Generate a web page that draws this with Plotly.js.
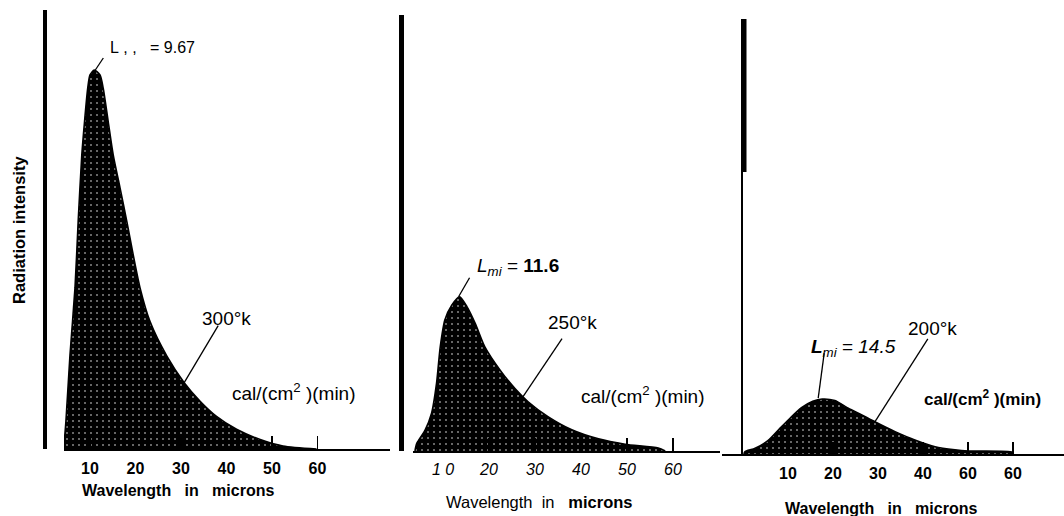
<!DOCTYPE html>
<html>
<head>
<meta charset="utf-8">
<script src="https://cdn.plot.ly/plotly-3.0.1.min.js"></script>
<style>html,body{margin:0;padding:0;background:#fff;}#chart{width:1064px;height:516px;}</style>
</head>
<body>
<div id="chart"></div>
<script>
// ---- data (relative radiation intensity, 300°K peak = 100) ----
const wl300  = [4.2, 4.7, 5.6, 6.7, 7.4, 8.2, 8.8, 9.5, 10.0, 10.95, 12.2, 12.9, 14.0, 15.1, 16.6, 18.1, 19.5, 21.0, 23.2, 26.9, 30.7, 34.2, 37.8, 42.2, 47.4, 52.4, 59.8];
const int300 = [0, 7.2, 24.8, 42.5, 60.0, 77.6, 86.4, 95.2, 98.7, 100.0, 98.7, 95.2, 86.4, 77.6, 68.9, 60.0, 51.2, 42.5, 33.6, 24.5, 17.5, 12.6, 8.6, 5.2, 2.5, 0.8, 0];

const wl250  = [3.9, 4.3, 6.1, 7.5, 8.6, 9.4, 10.4, 11.9, 13.6, 15.2, 17.0, 19.1, 22.5, 25.7, 28.5, 32.9, 38.0, 43.8, 49.6, 56.8, 58.3];
const int250 = [0, 2.0, 5.5, 9.9, 17.9, 27.5, 34.6, 38.5, 40.7, 38.1, 33.7, 27.5, 21.2, 16.4, 13.0, 9.0, 5.6, 3.2, 1.8, 0.8, 0];

const wl200  = [0.2, 0.4, 2.7, 5.6, 8.0, 10.5, 13.0, 15.5, 17.6, 20.4, 23.4, 26.4, 29.3, 33.8, 38.2, 42.7, 47.1, 50.1, 59.8, 60.0];
const int200 = [0, 0.6, 1.5, 3.6, 6.5, 9.5, 12.2, 13.9, 14.5, 14.1, 12.1, 10.3, 8.5, 5.9, 3.7, 1.9, 1.1, 0.8, 0.5, 0];

const tickVals    = [10, 20, 30, 40, 50, 60];
const tickText300 = ['10', '20', '30', '40', '50', '60'];
const tickText250 = ['1\u00a00', '20', '30', '40', '50', '60'];
const tickText200 = ['10', '20', '30', '40', '60', '60'];

const peakLabels  = ['L\u00a0,\u00a0,\u00a0\u00a0\u00a0=\u00a09.67', '<i>L<sub>mi</sub></i> = <b>11.6</b>', '<b><i>L</i></b><sub><i>mi</i></sub> = <i>14.5</i>'];
const tempLabels  = ['300°k', '250°k', '200°k'];
const unitLabel   = 'cal/(cm<sup>2</sup>\u00a0)(min)';
const xTitle      = 'Wavelength\u00a0\u00a0\u00a0in\u00a0\u00a0\u00a0microns';
const yTitle      = 'Radiation intensity';

// ---- helpers ----
const W = 1064, H = 516;
const FONT = 'Liberation Sans, Arial, sans-serif';
const px = v => v / W;
const py = v => 1 - v / H;
function interp(xs, ys, x) {
  for (let i = 1; i < xs.length; i++) {
    if (x <= xs[i]) { const t = (x - xs[i-1]) / (xs[i] - xs[i-1]); return ys[i-1] + t * (ys[i] - ys[i-1]); }
  }
  return ys[ys.length - 1];
}
function peak(xs, ys) { let k = 0; ys.forEach((v, i) => { if (v > ys[k]) k = i; }); return [xs[k], ys[k]]; }

const pattern = {shape: '.', bgcolor: '#000', fgcolor: '#fff', size: 6, solidity: 0.05};
function trace(xs, ys, xa, ya) {
  return {x: xs, y: ys, xaxis: xa, yaxis: ya, type: 'scatter', mode: 'lines',
    line: {color: '#000', width: 1.6, shape: 'spline', smoothing: 0.7},
    fill: 'tozeroy', fillcolor: '#000', fillpattern: pattern, hoverinfo: 'skip'};
}

function xAxis(dom, rng, anchor, ticktext, tfont, ticklen, standoff) {
  return {domain: dom, range: rng, anchor: anchor, showline: true, linecolor: '#000', linewidth: 2,
    ticks: 'inside', ticklen: ticklen, tickwidth: 1.5, tickcolor: '#000',
    tickmode: 'array', tickvals: tickVals, ticktext: ticktext, tickfont: tfont, ticklabelstandoff: standoff,
    showgrid: false, zeroline: false, fixedrange: true};
}
function yAxis(dom, rng, pos, lw) {
  return {domain: dom, range: rng, anchor: 'free', position: pos, showline: true, linecolor: '#000',
    linewidth: lw, showticklabels: false, ticks: '', showgrid: false, zeroline: false, fixedrange: true};
}

const data = [
  trace(wl300, int300, 'x', 'y'),
  trace(wl250, int250, 'x2', 'y2'),
  trace(wl200, int200, 'x3', 'y3')
];

// leader lines (pixel offsets from points on the curves)
function leader(xa, ya, ax, ay, x0, y0, x1, y1) {
  return {type: 'line', xref: xa, yref: ya, xsizemode: 'pixel', ysizemode: 'pixel',
    xanchor: ax, yanchor: ay, x0: x0, y0: y0, x1: x1, y1: y1, line: {color: '#000', width: 1.3}};
}
const p300 = peak(wl300, int300), p250 = peak(wl250, int250), p200 = peak(wl200, int200);
const shapes = [
  leader('x', 'y', p300[0], p300[1], 1, 0, 9, 12),
  leader('x', 'y', 30.7, interp(wl300, int300, 30.7), 0, 0, 34, 57),
  leader('x2', 'y2', p250[0], p250[1], -1, 0, 10, 19),
  leader('x2', 'y2', 27.4, interp(wl250, int250, 27.4), 0, 0, 39, 58),
  leader('x3', 'y3', p200[0], p200[1], -4, 1, 2, 46),
  leader('x3', 'y3', 29.3, interp(wl200, int200, 29.3), 0, 0, 53, 83),
  // thick upper part of the third vertical axis
  {type: 'rect', xref: 'paper', yref: 'paper', x0: px(741.5), x1: px(746.5), y0: py(172), y1: py(19),
   fillcolor: '#000', line: {width: 0}}
];

function ann(text, x, y, size, extra) {
  return Object.assign({text: text, xref: 'paper', yref: 'paper', x: px(x), y: py(y),
    xanchor: 'center', yanchor: 'middle', showarrow: false,
    font: {family: FONT, size: size, color: '#000'}}, extra || {});
}
const bold = s => ({font: {family: FONT, size: s, color: '#000', weight: 'bold'}});
const annotations = [
  ann(peakLabels[0], 152, 48, 16),
  ann(tempLabels[0], 226, 318, 19),
  ann(unitLabel, 294, 392, 19),
  ann(peakLabels[1], 518, 267, 19),
  ann(tempLabels[1], 572, 322, 19),
  ann(unitLabel, 643, 395, 19),
  ann(peakLabels[2], 853, 348, 19),
  ann(tempLabels[2], 932, 328, 19),
  ann(unitLabel, 982, 398, 17, bold(17)),
  ann(yTitle, 19, 230, 16.5, Object.assign({textangle: -90}, bold(16.5))),
  ann(xTitle, 178, 490, 16, bold(16)),
  ann('Wavelength\u00a0\u00a0in\u00a0\u00a0\u00a0<b>microns</b>', 539, 502, 16.5),
  ann(xTitle, 881, 508, 16, bold(16))
];

const layout = {
  width: W, height: H, margin: {l: 0, r: 0, t: 0, b: 0, pad: 0},
  paper_bgcolor: '#fff', plot_bgcolor: 'rgba(0,0,0,0)', showlegend: false,
  font: {family: FONT, color: '#000'},
  xaxis:  xAxis([px(64), px(390)],  [(64 - 44.5) / 4.55, (390 - 44.5) / 4.55], 'y', tickText300,
                {family: FONT, size: 16, color: '#000', weight: 'bold'}, 13, 4),
  yaxis:  yAxis([py(449), py(10)], [0, 439 / 3.79], px(45), 4),
  xaxis2: xAxis([px(413), px(720)], [(413 - 397) / 4.6, (720 - 397) / 4.6], 'y2', tickText250,
                {family: FONT, size: 16, color: '#000', style: 'italic'}, 13, 3),
  yaxis2: yAxis([py(451), py(15)], [0, 436 / 3.79], px(400.5), 5),
  xaxis3: xAxis([px(722), px(1064)], [(722 - 743) / 4.5, (1064 - 743) / 4.5], 'y3', tickText200,
                {family: FONT, size: 16, color: '#000', weight: 'bold'}, 12, 4),
  yaxis3: yAxis([py(454), py(19)], [0, 435 / 3.79], px(742), 2),
  shapes: shapes,
  annotations: annotations
};

Plotly.newPlot('chart', data, layout, {staticPlot: true, displayModeBar: false});
</script>
</body>
</html>
